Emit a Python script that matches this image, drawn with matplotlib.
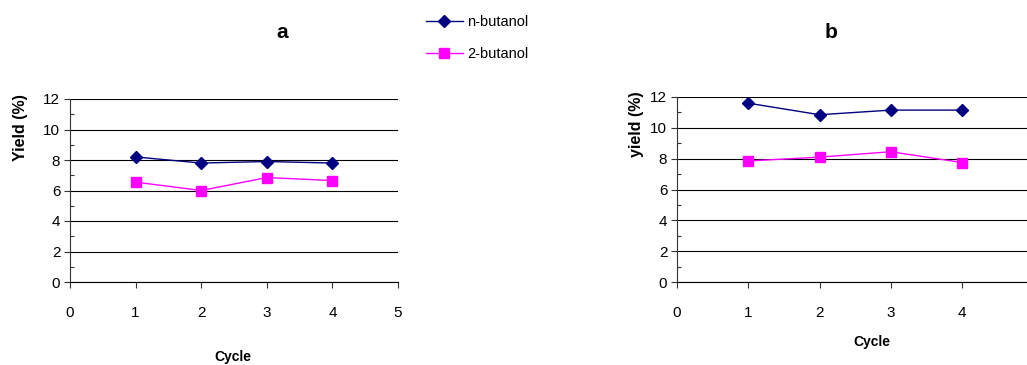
import matplotlib.pyplot as plt
from matplotlib.ticker import MultipleLocator

plt.rcParams['font.family'] = ['Liberation Sans', 'DejaVu Sans']

cycles = [1, 2, 3, 4]
# panel a
a_n_butanol = [8.2, 7.8, 7.9, 7.8]
a_2_butanol = [6.55, 6.0, 6.85, 6.65]
# panel b
b_n_butanol = [11.6, 10.85, 11.15, 11.15]
b_2_butanol = [7.85, 8.1, 8.45, 7.75]

navy = '#000080'
magenta = '#FF00FF'

W, H = 1027, 365
fig = plt.figure(figsize=(W / 100, H / 100), dpi=100)
ax1 = fig.add_axes([70 / W, 1 - 282 / H, 328 / W, 183 / H])
ax2 = fig.add_axes([677 / W, 1 - 282 / H, 350 / W, 185 / H])


def ftext(x, y, s, **kw):
    # position in pixels from the top-left corner
    fig.text(x / W, 1 - y / H, s, ha='center', va='center', **kw)


def style(ax, xmax):
    ax.set_xlim(0, xmax)
    ax.set_ylim(0, 12)
    ax.set_xticks(range(0, int(xmax) + 1))
    ax.yaxis.set_major_locator(MultipleLocator(2))
    ax.yaxis.set_minor_locator(MultipleLocator(1))
    ax.grid(axis='y', color='black', lw=0.8)
    ax.set_axisbelow(True)
    for s in ['top', 'right']:
        ax.spines[s].set_visible(False)
    ax.spines['left'].set_color('#333333')
    ax.spines['bottom'].set_color('black')
    ax.tick_params(axis='both', which='major', direction='out', labelsize=11,
                   color='#333333', length=4, width=0.8)
    ax.tick_params(axis='y', which='major', pad=3)
    ax.tick_params(axis='x', which='major', pad=13)
    ax.tick_params(axis='y', which='minor', direction='in', length=3, width=0.8,
                   color='#333333')


ax1.plot(cycles, a_n_butanol, color=navy, marker='D', ms=6.5, lw=1, label='n-butanol')
ax1.plot(cycles, a_2_butanol, color=magenta, marker='s', ms=6.5, lw=1, label='2-butanol')
style(ax1, 5)

ax2.plot(cycles, b_n_butanol, color=navy, marker='D', ms=6.5, lw=1)
ax2.plot(cycles, b_2_butanol, color=magenta, marker='s', ms=6.5, lw=1)
style(ax2, 4.91)

ftext(282, 33, 'a', fontsize=15, fontweight='bold')
ftext(831, 33, 'b', fontsize=15, fontweight='bold')
ftext(21, 128, 'Yield (%)', fontsize=11.5, fontweight='bold', rotation=90)
ftext(637, 124, 'yield (%)', fontsize=11.5, fontweight='bold', rotation=90)
ftext(233, 357, 'Cycle', fontsize=10, fontweight='bold')
ftext(872, 342, 'Cycle', fontsize=10, fontweight='bold')

h, l = ax1.get_legend_handles_labels()
fig.legend(h, l, loc='upper left', bbox_to_anchor=(413 / W, 1 - 2 / H), frameon=False,
           fontsize=10.5, handlelength=2.5, labelspacing=1.2, handletextpad=0.3)

fig.savefig('out.png', dpi=100)
